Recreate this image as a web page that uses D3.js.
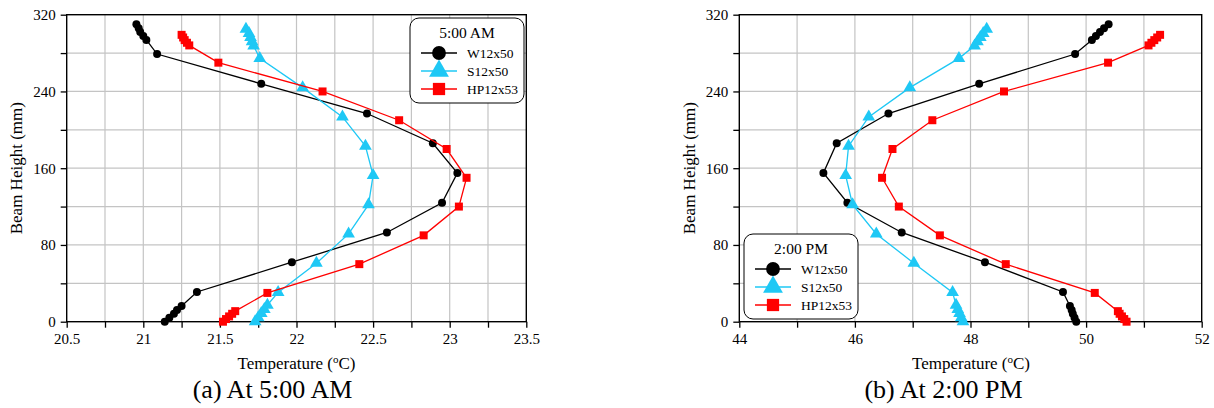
<!DOCTYPE html>
<html><head><meta charset="utf-8">
<script src="https://cdn.jsdelivr.net/npm/d3@7"></script>
<style>body{margin:0;background:#fff}svg{display:block}svg text{font-family:'Liberation Serif','Times New Roman',serif !important;fill:#000}</style>
</head><body>
<svg id="c" width="1214" height="408"></svg>
<script>
// Heights (mm) of measurement points for each section
const hW  = [0,4.1,8.2,12.2,16.3,31,62,93,124,155,186,217,248,279,293.7,297.8,301.9,305.9,310];
const hS  = [0,4.4,8.7,13,17.4,30.5,61,91.5,122,152.5,183,213.5,244,274.5,287.6,292,296.3,300.6,305];
const hHP = [0,2.75,5.5,8.25,11,30,60,90,120,150,180,210,240,270,288,290.75,293.5,296.25,299];

// Temperatures at 5:00 AM
const W_am  = [21.14,21.17,21.20,21.22,21.25,21.35,21.97,22.59,22.95,23.05,22.89,22.46,21.77,21.09,21.02,21.00,20.98,20.97,20.955];
const S_am  = [21.73,21.75,21.77,21.79,21.81,21.88,22.13,22.34,22.47,22.50,22.45,22.30,22.04,21.76,21.72,21.71,21.70,21.69,21.67];
const HP_am = [21.52,21.54,21.56,21.58,21.60,21.81,22.41,22.83,23.06,23.11,22.98,22.67,22.17,21.49,21.30,21.285,21.27,21.26,21.25];

// Temperatures at 2:00 PM
const W_pm  = [49.83,49.80,49.77,49.75,49.72,49.60,48.25,46.81,45.87,45.455,45.685,46.58,48.15,49.81,50.10,50.17,50.24,50.31,50.39];
const S_pm  = [47.87,47.84,47.81,47.78,47.75,47.69,47.02,46.37,45.96,45.84,45.89,46.24,46.95,47.80,48.07,48.12,48.17,48.22,48.28];
const HP_pm = [50.70,50.66,50.62,50.58,50.55,50.15,48.61,47.47,46.76,46.47,46.65,47.34,48.58,50.38,51.08,51.13,51.18,51.23,51.28];

const seriesNames = ["W12x50","S12x50","HP12x53"];
const seriesColors = ["#000000","#1ec8f5","#ff0000"];
const yTicks = [0,40,80,120,160,200,240,280,320];
const yLabels = [0,80,160,240,320];
const xTicksA = [20.5,20.75,21,21.25,21.5,21.75,22,22.25,22.5,22.75,23,23.25,23.5];
const xLabelsA = [20.5,21,21.5,22,22.5,23,23.5];
const xTicksB = [44,45,46,47,48,49,50,51,52];
const xLabelsB = [44,46,48,50,52];

const FF = "'Liberation Serif','Times New Roman',serif";
const svg = d3.select("#c");
const symbols = [d3.symbolCircle, d3.symbolTriangle, d3.symbolSquare];

function panel(cfg){
  const x = d3.scaleLinear().domain(cfg.xDomain).range(cfg.xRange);
  const y = d3.scaleLinear().domain([0,320]).range([321.7,14.7]);
  const g = svg.append("g").style("font-family",FF);
  const [x0,x1] = cfg.xRange, y0 = y(0), y1 = y(320);
  // grid
  g.selectAll(".gx").data(cfg.xTicks.filter(t=>t>cfg.xDomain[0]&&t<cfg.xDomain[1])).join("line")
    .attr("x1",d=>x(d)).attr("x2",d=>x(d)).attr("y1",y1).attr("y2",y0)
    .attr("stroke","#c4c4c4").attr("stroke-width",1.2);
  g.selectAll(".gy").data(yTicks.filter(t=>t>0&&t<320)).join("line")
    .attr("y1",d=>y(d)).attr("y2",d=>y(d)).attr("x1",x0).attr("x2",x1)
    .attr("stroke","#c4c4c4").attr("stroke-width",1.2);
  // axes
  const xa = g.append("g").attr("transform",`translate(0,${y0})`)
    .call(d3.axisBottom(x).tickValues(cfg.xTicks).tickSize(6).tickPadding(6)
      .tickFormat(d=>cfg.xLabels.includes(d)?String(d):""));
  const ya = g.append("g").attr("transform",`translate(${x0},0)`)
    .call(d3.axisLeft(y).tickValues(yTicks).tickSize(6).tickPadding(5)
      .tickFormat(d=>yLabels.includes(d)?String(d):""));
  [xa,ya].forEach(a=>{
    a.attr("font-family",FF).style("font-family",FF);
    a.select(".domain").remove();
    a.selectAll("line").attr("stroke","#000").attr("stroke-width",1.3);
    a.selectAll("text").attr("font-size",15).style("font-family",FF);
  });
  g.append("rect").attr("x",x0).attr("y",y1).attr("width",x1-x0).attr("height",y0-y1)
    .attr("fill","none").attr("stroke","#000").attr("stroke-width",1.4);
  // series
  const hs = [hW,hS,hHP];
  cfg.data.forEach((vals,i)=>{
    const pts = vals.map((v,j)=>[x(v),y(hs[i][j])]);
    g.append("path").attr("d",d3.line()(pts)).attr("fill","none")
      .attr("stroke",seriesColors[i]).attr("stroke-width",1.3);
    const sz = [50,70,64][i];
    g.selectAll(null).data(pts).join("path")
      .attr("transform",p=>`translate(${p[0]},${p[1]})`)
      .attr("d",d3.symbol().type(symbols[i]).size(sz))
      .attr("fill",seriesColors[i]);
  });
  // axis titles
  const xt = g.append("text").attr("x",cfg.xTitleX).attr("y",369).attr("text-anchor","middle").attr("font-size",17).style("font-family",FF);
  xt.append("tspan").text("Temperature (");
  xt.append("tspan").text("o").attr("font-size",11).attr("dy",-6);
  xt.append("tspan").text("C)").attr("dy",6);
  g.append("text").attr("transform",`translate(${cfg.yTitleX},${(y0+y1)/2}) rotate(-90)`)
    .attr("text-anchor","middle").attr("font-size",17).style("font-family",FF).text("Beam Height (mm)");
  g.append("text").attr("x",cfg.capX).attr("y",398).attr("text-anchor","middle")
    .attr("font-size",26).style("font-family",FF).text(cfg.caption);
  // legend
  const L = cfg.legend;
  const lg = g.append("g").attr("transform",`translate(${L.x},${L.y})`);
  lg.append("rect").attr("width",L.w).attr("height",L.h).attr("rx",9)
    .attr("fill","#fff").attr("stroke","#000").attr("stroke-width",1);
  lg.append("text").attr("x",L.w/2).attr("y",20).attr("text-anchor","middle").attr("font-size",15.5).style("font-family",FF).text(L.title);
  seriesNames.forEach((n,i)=>{
    const yy = 35 + i*18;
    lg.append("line").attr("x1",11).attr("x2",47).attr("y1",yy).attr("y2",yy)
      .attr("stroke",seriesColors[i]).attr("stroke-width",1.3);
    lg.append("path").attr("transform",`translate(29,${yy})`)
      .attr("d",d3.symbol().type(symbols[i]).size([150,170,150][i])).attr("fill",seriesColors[i]);
    lg.append("text").attr("x",57).attr("y",yy+5).attr("font-size",13.5).style("font-family",FF).text(n);
  });
}

panel({xDomain:[20.5,23.5], xRange:[66.7,526.3], xTicks:xTicksA, xLabels:xLabelsA,
  data:[W_am,S_am,HP_am], caption:"(a) At 5:00 AM", capX:272.5, xTitleX:296.5, yTitleX:22,
  legend:{x:410,y:18,w:114,h:85,title:"5:00 AM"}});
panel({xDomain:[44,52], xRange:[739.3,1201.7], xTicks:xTicksB, xLabels:xLabelsB,
  data:[W_pm,S_pm,HP_pm], caption:"(b) At 2:00 PM", capX:943.5, xTitleX:971, yTitleX:695,
  legend:{x:744,y:234,w:114,h:85,title:"2:00 PM"}});
</script>
</body></html>
